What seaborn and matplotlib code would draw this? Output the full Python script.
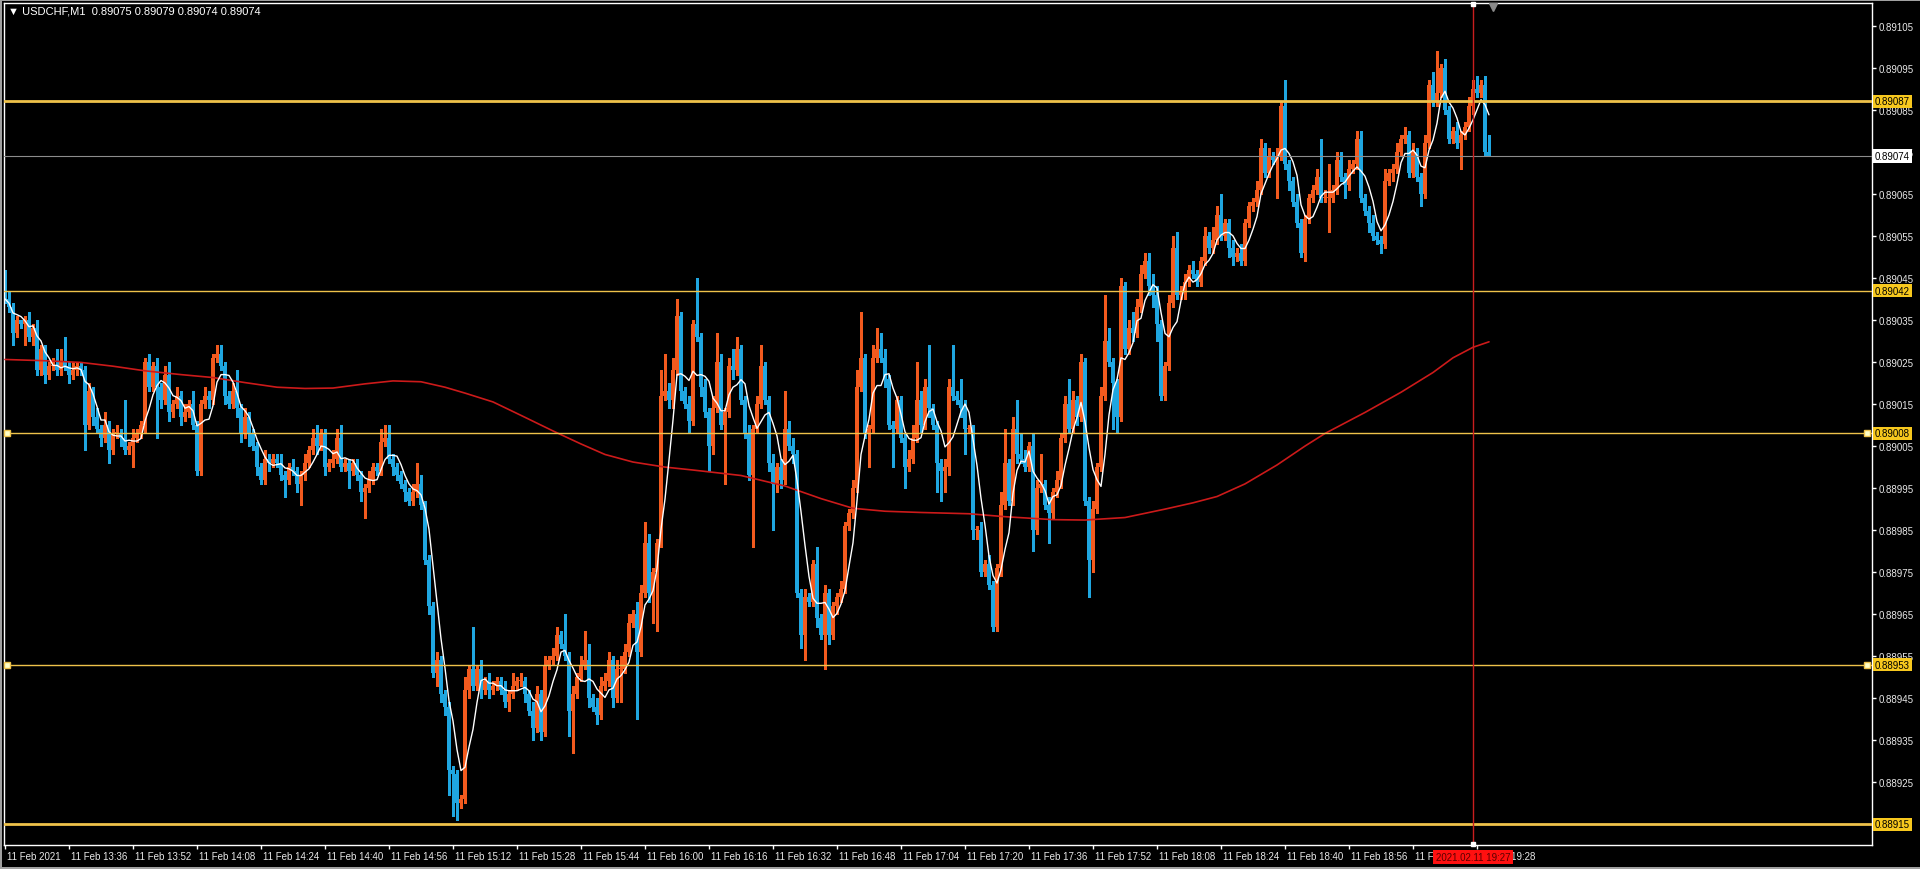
import numpy as np
import pandas as pd
import matplotlib
matplotlib.use('Agg')
from matplotlib import pyplot as plt
from matplotlib import transforms
import seaborn as sns

# prices are stored in points (1 point = 0.00001) above 0.89000
first_open = 46
closes = [
    40, 38, 32, 35, 34, 35, 31, 33, 23, 28,
    22, 24, 24, 23, 25, 24, 22, 23, 24, 23,
    10, 18, 12, 9, 7, 10, 4, 8, 8, 7,
    4, 5, 7, 8, 10, 25, 19, 24, 19, 16,
    22, 13, 15, 17, 12, 13, 15, 10, -1, 15,
    17, 16, 26, 27, 24, 17, 15, 18, 14, 8,
    12, 8, 5, 0, -3, 2, 1, 2, 1, -2,
    -3, 0, -1, -4, -2, 1, 4, 7, 5, 8,
    0, 1, 2, 7, 0, 1, -1, 1, -2, -6,
    -5, -3, 0, -1, 6, 7, 2, 0, -2, -4,
    -6, -8, -6, -4, -9, -22, -33, -49, -46, -54,
    -57, -72, -73, -80, -79, -53, -48, -52, -48, -53,
    -51, -53, -52, -51, -53, -56, -54, -52, -51, -51,
    -54, -58, -62, -54, -63, -47, -46, -45, -40, -42,
    -45, -58, -54, -50, -47, -46, -55, -57, -59, -52,
    -51, -46, -55, -48, -48, -44, -37, -35, -44, -30,
    -18, -30, -25, -18, 17, 18, 16, 23, 36, 18,
    15, 11, 34, 31, 19, 13, 5, 14, 25, 10,
    13, 24, 23, 28, 16, 8, -2, 9, 15, 24,
    16, 1, -4, 0, -3, 9, 5, 3, -30, -40,
    -31, -32, -23, -36, -40, -30, -40, -33, -31, -29,
    -14, -11, -5, 19, 26, 8, 9, 26, 28, 26,
    21, 10, 9, 16, 7, 0, 2, 7, 16, 10,
    19, 14, 10, 1, -1, 0, 19, 17, 16, 14,
    9, 9, -15, -15, -25, -23, -28, -38, -24, -9,
    1, -8, 9, 3, 2, 0, 5, -15, -5, -4,
    -9, -11, -6, -3, 7, 15, 9, 16, 12, 25,
    -8, -22, -10, 0, 17, 30, 25, 20, 12, 43,
    28, 33, 32, 38, 46, 49, 43, 41, 34, 17,
    24, 39, 52, 41, 42, 44, 47, 46, 44, 49,
    55, 52, 54, 60, 55, 58, 52, 50, 51, 49,
    58, 62, 63, 66, 76, 70, 74, 73, 74, 86,
    72, 68, 63, 58, 51, 59, 64, 66, 69, 64,
    64, 64, 66, 73, 69, 67, 71, 72, 78, 64,
    61, 58, 55, 54, 53, 68, 70, 71, 75, 78,
    79, 70, 75, 69, 65, 77, 91, 87, 89, 95,
    85, 78, 80, 77, 79, 81, 86, 90, 89, 91,
    75, 74,
]
wick_up = [
    1, 2, 1, 1, 0, 1, 2, 1, 2, 1,
    1, 1, 2, 4, 3, 6, 1, 2, 1, 1,
    1, 2, 1, 2, 1, 3, 1, 1, 2, 1,
    9, 1, 2, 1, 1, 1, 2, 1, 2, 1,
    2, 3, 1, 2, 1, 2, 1, 3, 1, 1,
    2, 1, 1, 2, 2, 1, 1, 2, 5, 1,
    2, 1, 1, 1, 1, 2, 1, 1, 1, 2,
    1, 1, 2, 1, 1, 2, 1, 2, 3, 1,
    1, 1, 2, 2, 3, 1, 1, 1, 1, 1,
    1, 2, 1, 1, 3, 3, 3, 1, 1, 1,
    1, 1, 2, 5, 2, 1, 1, 1, 2, 1,
    1, 1, 1, 1, 1, 3, 1, 10, 1, 2,
    1, 2, 1, 1, 1, 2, 1, 3, 1, 2,
    1, 1, 2, 2, 1, 2, 1, 2, 2, 1,
    7, 1, 2, 1, 2, 7, 4, 1, 2, 2,
    2, 2, 1, 2, 3, 2, 2, 1, 3, 2,
    5, 2, 1, 1, 6, 9, 2, 3, 4, 1,
    1, 2, 1, 11, 1, 2, 1, 3, 7, 2,
    1, 2, 4, 3, 1, 1, 2, 1, 2, 5,
    1, 1, 2, 1, 2, 9, 2, 2, 1, 1,
    2, 1, 1, 4, 1, 2, 1, 1, 1, 2,
    1, 1, 2, 4, 11, 1, 1, 3, 5, 4,
    2, 1, 1, 1, 1, 1, 2, 3, 9, 2,
    2, 10, 1, 1, 1, 2, 2, 10, 1, 5,
    2, 1, 1, 1, 2, 1, 2, 1, 1, 3,
    8, 1, 3, 7, 5, 2, 1, 3, 2, 7,
    1, 2, 1, 2, 1, 2, 6, 2, 1, 2,
    1, 1, 2, 1, 2, 11, 3, 1, 1, 2,
    1, 2, 4, 2, 2, 2, 2, 3, 2, 1,
    1, 2, 3, 4, 1, 2, 1, 2, 1, 1,
    2, 1, 3, 2, 5, 1, 1, 2, 1, 2,
    1, 1, 1, 2, 2, 1, 2, 1, 2, 1,
    6, 1, 1, 2, 1, 1, 1, 1, 2, 9,
    2, 8, 1, 2, 2, 1, 2, 1, 2, 2,
    1, 1, 2, 1, 1, 3, 1, 1, 2, 1,
    2, 1, 2, 1, 1, 2, 1, 3, 10, 1,
    2, 1, 1, 2, 1, 1, 2, 2, 3, 1,
    2, 4,
]
wick_dn = [
    1, 1, 3, 1, 1, 5, 1, 2, 1, 1,
    2, 1, 1, 1, 1, 1, 2, 1, 1, 1,
    6, 1, 2, 1, 2, 1, 3, 1, 1, 2,
    1, 1, 5, 1, 1, 2, 1, 1, 12, 2,
    1, 2, 1, 1, 2, 1, 1, 1, 1, 1,
    1, 2, 1, 1, 1, 2, 1, 1, 2, 2,
    1, 3, 1, 2, 1, 1, 2, 1, 1, 1,
    4, 1, 1, 2, 5, 1, 1, 1, 2, 1,
    2, 1, 1, 1, 1, 1, 4, 1, 1, 2,
    6, 1, 1, 1, 1, 1, 1, 2, 1, 1,
    2, 1, 1, 1, 1, 1, 2, 1, 3, 2,
    2, 6, 10, 4, 1, 1, 2, 1, 1, 2,
    1, 2, 1, 1, 1, 1, 2, 1, 1, 1,
    2, 1, 3, 1, 2, 1, 1, 1, 1, 1,
    1, 6, 10, 1, 1, 1, 2, 1, 2, 1,
    1, 1, 2, 1, 8, 1, 1, 1, 16, 1,
    1, 2, 7, 14, 1, 1, 2, 2, 1, 2,
    1, 3, 1, 1, 2, 1, 6, 2, 1, 1,
    14, 1, 2, 1, 1, 1, 1, 17, 1, 1,
    1, 2, 11, 2, 2, 1, 1, 2, 1, 3,
    6, 1, 1, 2, 1, 8, 2, 1, 2, 1,
    1, 1, 1, 1, 1, 1, 8, 1, 1, 1,
    2, 1, 9, 1, 1, 5, 1, 1, 1, 2,
    1, 2, 1, 7, 7, 5, 2, 1, 1, 2,
    6, 1, 2, 2, 1, 1, 1, 1, 1, 2,
    1, 1, 1, 2, 1, 1, 1, 5, 1, 1,
    1, 7, 1, 1, 2, 1, 1, 1, 2, 1,
    1, 9, 3, 1, 1, 1, 1, 11, 4, 1,
    1, 1, 2, 1, 1, 1, 2, 3, 4, 1,
    1, 1, 1, 1, 1, 2, 1, 1, 1, 1,
    1, 1, 1, 1, 1, 1, 2, 2, 1, 1,
    1, 1, 1, 1, 1, 1, 1, 1, 9, 1,
    1, 2, 1, 1, 1, 2, 1, 1, 1, 1,
    1, 8, 1, 1, 1, 3, 1, 1, 1, 1,
    1, 2, 1, 1, 2, 1, 1, 2, 1, 1,
    1, 1, 1, 1, 3, 1, 1, 1, 1, 1,
    1, 1, 1, 1, 6, 1, 1, 2, 1, 1,
    1, 0,
]

# slow (red) moving average, read at a number of bars
red_ma_bar = [0, 10, 19, 27, 35, 44, 52, 60, 68, 75, 82, 90, 97, 104, 110, 115,
              122, 129, 137, 144, 150, 157, 165, 172, 184, 195, 204, 212, 220,
              229, 241, 250, 262, 270, 280, 290, 297, 303, 310, 318, 325, 330,
              340, 349, 357, 362, 367, 371]
red_ma_pts = [25.6, 25.3, 24.9, 24.0, 22.9, 22.0, 21.3, 20.1, 19.0, 18.7, 18.8,
              19.8, 20.5, 20.3, 19.0, 17.6, 15.5, 12.3, 8.6, 5.5, 3.0, 1.2, 0.0,
              -0.7, -2.0, -4.5, -7.5, -9.8, -10.5, -10.8, -11.1, -11.8, -12.5,
              -12.6, -12.0, -10.0, -8.5, -7.0, -4.0, 0.5, 5.0, 8.0, 13.0, 17.8,
              22.5, 26.0, 28.5, 29.8]

levels = [0.89087, 0.89042, 0.89008, 0.88953, 0.88915]
level_widths = [2, 1, 1, 1, 2]
marked_levels = [0.89008, 0.88953]
bid = 0.89074
price_ticks = ['0.88925', '0.88935', '0.88945', '0.88955', '0.88965', '0.88975',
               '0.88985', '0.88995', '0.89005', '0.89015', '0.89025', '0.89035',
               '0.89045', '0.89055', '0.89065', '0.89075', '0.89085', '0.89095',
               '0.89105']
time_labels = ['11 Feb 2021', '11 Feb 13:36', '11 Feb 13:52', '11 Feb 14:08',
               '11 Feb 14:24', '11 Feb 14:40', '11 Feb 14:56', '11 Feb 15:12',
               '11 Feb 15:28', '11 Feb 15:44', '11 Feb 16:00', '11 Feb 16:16',
               '11 Feb 16:32', '11 Feb 16:48', '11 Feb 17:04', '11 Feb 17:20',
               '11 Feb 17:36', '11 Feb 17:52', '11 Feb 18:08', '11 Feb 18:24',
               '11 Feb 18:40', '11 Feb 18:56', '11 Feb 19:12', '11 Feb 19:28']
cursor_bar = 367
cursor_text = '2021.02.11 19:27'
title = '\u25bc USDCHF,M1  0.89075 0.89079 0.89074 0.89074'

BULL = '#f25a1e'
BEAR = '#1fa6e0'
GOLD = '#eec24a'

sns.set_theme(style='dark', rc={'axes.facecolor': 'black', 'figure.facecolor': 'black',
                                'axes.edgecolor': 'white', 'text.color': 'white'})
plt.rcParams['font.family'] = ['Liberation Sans', 'DejaVu Sans']

df = pd.DataFrame({'close': closes, 'up': wick_up, 'dn': wick_dn})
df['bar'] = np.arange(len(df))
df['open'] = df.close.shift(1).fillna(first_open)
df['high'] = df[['open', 'close']].max(axis=1) + df.up
df['low'] = df[['open', 'close']].min(axis=1) - df.dn
for c in ['open', 'close', 'high', 'low']:
    df[c + '_p'] = 0.89 + df[c] / 1e5
df['fast_ma'] = df.close_p.rolling(5, min_periods=1).mean()
bull = df.close >= df.open
colors = np.where(bull, BULL, BEAR)

fig = plt.figure(figsize=(19.2, 8.7), dpi=100)
ax = fig.add_axes([4 / 1920, 24 / 870, 1868 / 1920, 842 / 870])

body_lo = df[['open_p', 'close_p']].min(axis=1)
body_h = (df.close_p - df.open_p).abs().clip(lower=3e-6)
ax.vlines(df.bar, df.low_p, df.high_p, colors=colors, linewidth=1, zorder=2,
          antialiased=False)
ax.bar(df.bar, body_h, bottom=body_lo, width=0.76, color=colors, linewidth=0, zorder=2,
       antialiased=False)

red = pd.DataFrame({'bar': red_ma_bar, 'price': 0.89 + np.array(red_ma_pts) / 1e5})
sns.lineplot(data=red, x='bar', y='price', color='#cc1a1a', linewidth=1.2, ax=ax, zorder=3)
sns.lineplot(data=df, x='bar', y='fast_ma', color='white', linewidth=1, ax=ax, zorder=4)

for lv, lw in zip(levels, level_widths):
    ax.axhline(lv, color=GOLD, linewidth=lw, zorder=5)
for lv in marked_levels:
    ax.plot([0.5, 465.5], [lv, lv], linestyle='none', marker='s', markersize=4,
            markerfacecolor='#ffffc8', markeredgecolor=GOLD, clip_on=False, zorder=6)
ax.axhline(bid, color='#8c8c8c', linewidth=0.8, zorder=5)
ax.axvline(cursor_bar, color='#c81e1e', linewidth=1, zorder=6)
ax.plot([cursor_bar], [0.889103], marker='s', markersize=3.5, color='white',
        clip_on=False, zorder=7)
ax.plot([cursor_bar], [0.891101], marker='s', markersize=3, color='white',
        clip_on=False, zorder=7)
ax.plot([372], [0.891095], marker='v', markersize=6, color='#8a8a8a',
        clip_on=False, zorder=7)

ax.set_xlim(-0.25, 466.75)
ax.set_ylim(0.889101, 0.891104)
ax.set_xlabel('')
ax.set_ylabel('')
for s in ax.spines.values():
    s.set_color('white')
    s.set_linewidth(1)

ax.yaxis.tick_right()
ax.set_yticks([float(t) for t in price_ticks])
ax.set_yticklabels(price_ticks)
ax.tick_params(axis='y', which='both', right=True, left=False, direction='out',
               length=3, width=1, color='white', labelsize=7, labelcolor='#e8e8e8', pad=1.5)
ax.set_xticks(np.arange(len(time_labels)) * 16)
ax.set_xticklabels(time_labels)
ax.tick_params(axis='x', which='both', bottom=True, direction='out', length=3,
               width=1, color='white', labelsize=7, labelcolor='#e8e8e8', pad=1.5)
shift = transforms.ScaledTranslation(2 / 100, 0, fig.dpi_scale_trans)
for lbl in ax.get_xticklabels():
    lbl.set_horizontalalignment('left')
    lbl.set_transform(lbl.get_transform() + shift)

tag_tr = transforms.blended_transform_factory(ax.transAxes, ax.transData)
for lv in levels:
    ax.text(1.0 + 3 / 1868, lv, f'{lv:.5f}', transform=tag_tr, fontsize=7, color='black',
            va='center', ha='left', clip_on=False, zorder=20,
            bbox=dict(boxstyle='square,pad=0.18', facecolor='#f7c81e', edgecolor='none'))
ax.text(1.0 + 3 / 1868, bid, f'{bid:.5f}', transform=tag_tr, fontsize=7, color='black',
        va='center', ha='left', clip_on=False, zorder=20,
        bbox=dict(boxstyle='square,pad=0.18', facecolor='white', edgecolor='none'))

cur_tr = transforms.blended_transform_factory(ax.transData, ax.transAxes)
ax.text(cursor_bar, -12 / 842, cursor_text, transform=cur_tr, fontsize=7, color='#5a0000',
        va='center', ha='center', clip_on=False, zorder=20,
        bbox=dict(boxstyle='square,pad=0.25', facecolor='#ff1010', edgecolor='none'))

fig.text(8 / 1920, 1 - 12 / 870, title, fontsize=8, color='white', va='center', ha='left',
         family=['Liberation Sans', 'DejaVu Sans'])

# window edges
fig.patches.append(plt.Rectangle((0, 1 - 2 / 870), 1, 2 / 870, transform=fig.transFigure,
                                 facecolor='#a0a0a0', edgecolor='none'))
fig.patches.append(plt.Rectangle((0, 0), 2 / 1920, 1, transform=fig.transFigure,
                                 facecolor='#a0a0a0', edgecolor='none'))
fig.patches.append(plt.Rectangle((0, 0), 1, 2 / 870, transform=fig.transFigure,
                                 facecolor='#a0a0a0', edgecolor='none'))

fig.savefig('out.png', dpi=100, facecolor='black')
